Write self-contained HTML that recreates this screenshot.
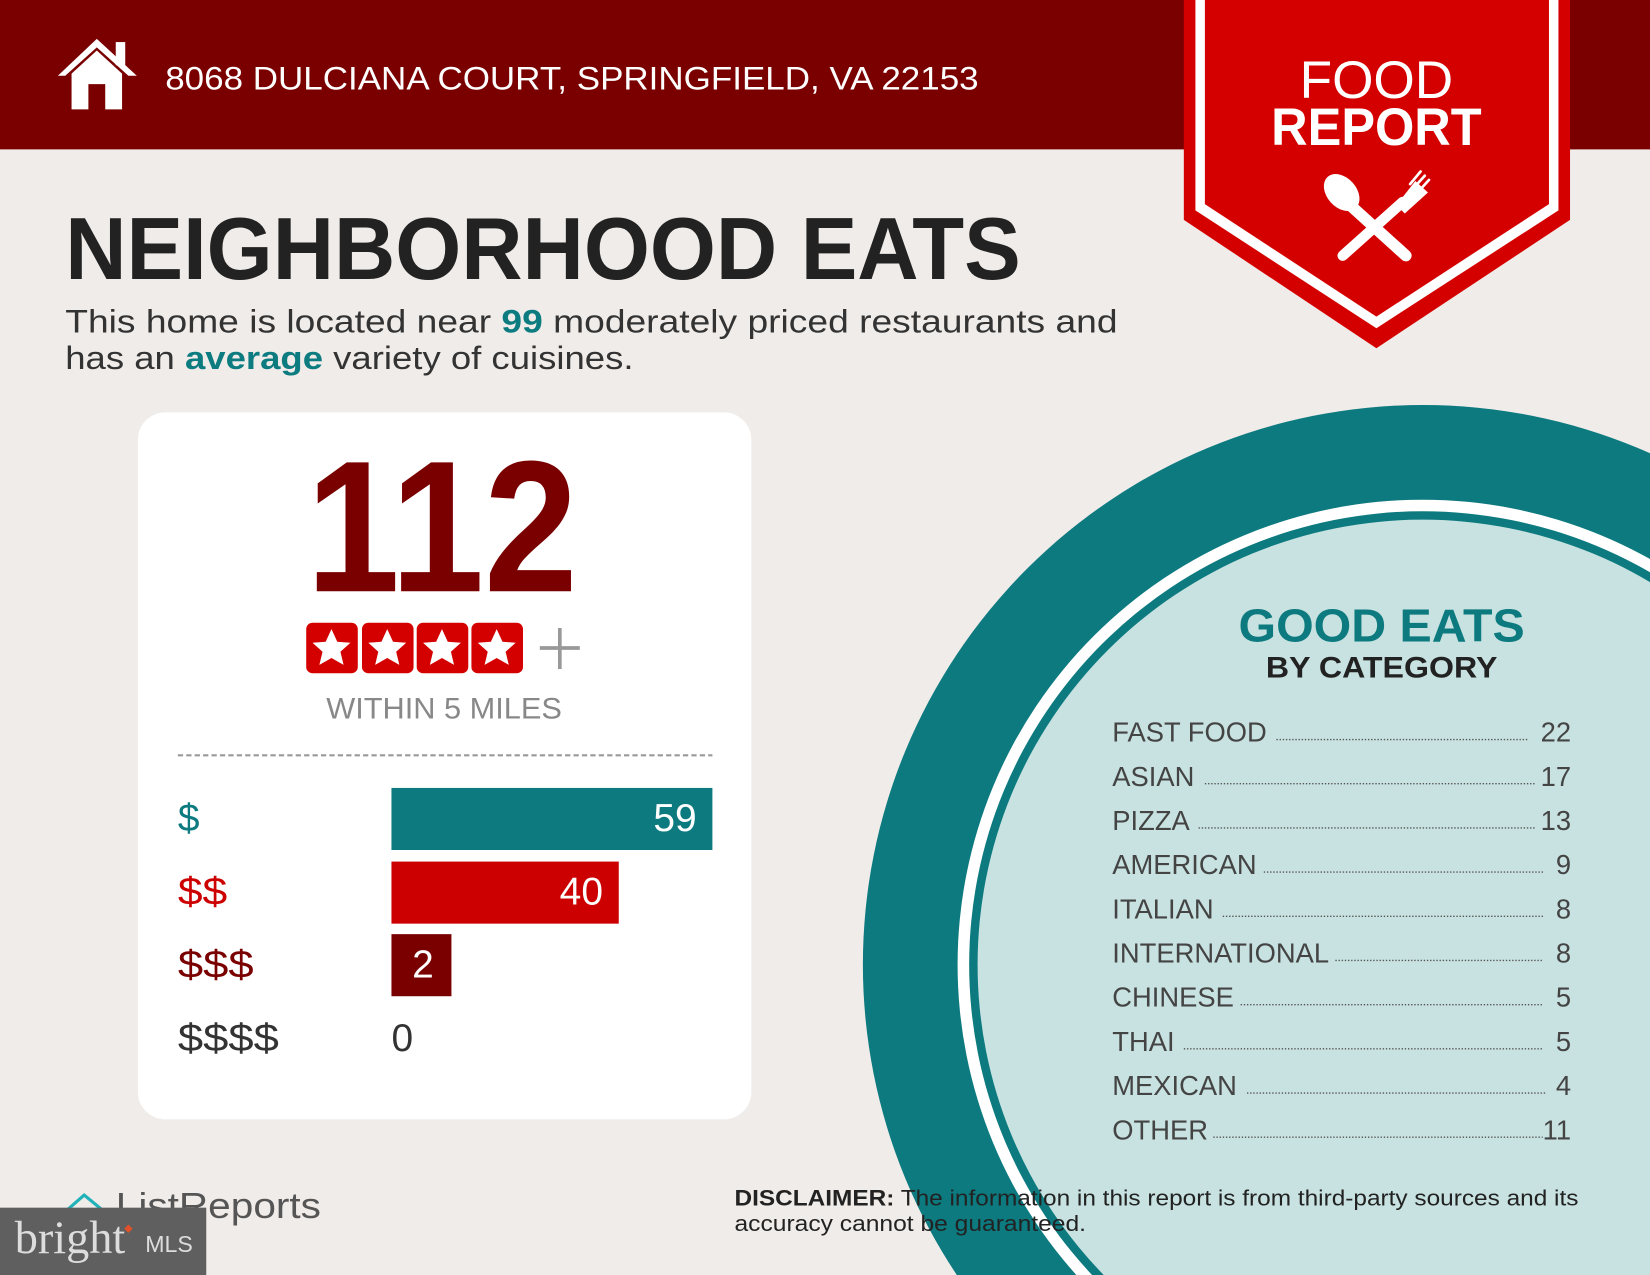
<!DOCTYPE html>
<html><head><meta charset="utf-8"><style>html,body{margin:0;padding:0;background:#f0ece9;overflow:hidden;width:1650px;height:1275px;position:relative}svg{display:block;position:absolute;left:0;top:0}</style></head>
<body>
<svg width="1650" height="1275" viewBox="0 0 1568 1212" preserveAspectRatio="none" xmlns="http://www.w3.org/2000/svg" font-family="Liberation Sans, sans-serif" overflow="hidden">
<rect width="1568" height="1212" fill="#f0ece9"/>
<rect width="1568" height="142" fill="#7a0000"/>
<g fill="#fff">
<polygon points="55,72 92,37 130,72 122,72 92,45 62,72"/>
<rect x="110" y="40" width="9" height="22"/>
<polygon points="68,70 92,48 116,70 116,104 100,104 100,80 84,80 84,104 68,104"/>
</g>
<text x="157" y="85" font-size="31" fill="#fff" textLength="773" lengthAdjust="spacingAndGlyphs">8068 DULCIANA COURT, SPRINGFIELD, VA 22153</text>
<polygon points="1125,0 1492,0 1492,209 1308,331 1125,209" fill="#d40000"/>
<polygon points="1136,0 1481,0 1481,200 1308,312 1136,200" fill="#fff"/>
<polygon points="1145,0 1472,0 1472,194 1308,301 1145,194" fill="#d40000"/>
<text x="1308" y="93" font-size="50" fill="#fff" text-anchor="middle" textLength="146" lengthAdjust="spacingAndGlyphs">FOOD</text>
<text x="1308" y="138" font-size="50" font-weight="bold" fill="#fff" text-anchor="middle" textLength="200" lengthAdjust="spacingAndGlyphs">REPORT</text>
<g stroke="#fff" stroke-linecap="round" fill="#fff">
<line x1="1283" y1="195" x2="1336" y2="243" stroke-width="11"/>
<ellipse cx="1275" cy="183" rx="14" ry="20" transform="rotate(-42 1275 183)" stroke="none"/>
<line x1="1333" y1="192" x2="1276" y2="243" stroke-width="10"/>
<path d="M1327,195 L1345,172 L1357,183 L1335,203 Z" stroke="none"/>
<line x1="1340" y1="175" x2="1350" y2="163" stroke-width="2.5"/>
<line x1="1344" y1="178" x2="1354" y2="167" stroke-width="2.5"/>
<line x1="1348" y1="182" x2="1358" y2="171" stroke-width="2.5"/>
</g>
<text x="62" y="265" font-size="84" font-weight="bold" fill="#222" textLength="908" lengthAdjust="spacingAndGlyphs">NEIGHBORHOOD EATS</text>
<text x="62" y="316" font-size="31" fill="#333" textLength="1000" lengthAdjust="spacingAndGlyphs">This home is located near <tspan fill="#0d7c80" font-weight="bold">99</tspan> moderately priced restaurants and</text>
<text x="62" y="351" font-size="31" fill="#333" textLength="540" lengthAdjust="spacingAndGlyphs">has an <tspan fill="#0d7c80" font-weight="bold">average</tspan> variety of cuisines.</text>
<circle cx="1352" cy="917" r="532" fill="#0c7a7f"/>
<circle cx="1352" cy="917" r="442" fill="#fff"/>
<circle cx="1352" cy="917" r="431" fill="#0c7a7f"/>
<circle cx="1352" cy="917" r="423" fill="#c7e2e0"/>
<text x="1313" y="610" font-size="44" font-weight="bold" fill="#0c7a7f" text-anchor="middle" textLength="272" lengthAdjust="spacingAndGlyphs">GOOD EATS</text>
<text x="1313" y="644" font-size="28" font-weight="bold" fill="#222" text-anchor="middle" textLength="220" lengthAdjust="spacingAndGlyphs">BY CATEGORY</text>
<g font-size="26" fill="#444">
<text x="1057" y="705">FAST FOOD</text><text x="1493" y="705" text-anchor="end">22</text>
<text x="1057" y="747">ASIAN</text><text x="1493" y="747" text-anchor="end">17</text>
<text x="1057" y="789">PIZZA</text><text x="1493" y="789" text-anchor="end">13</text>
<text x="1057" y="831">AMERICAN</text><text x="1493" y="831" text-anchor="end">9</text>
<text x="1057" y="873">ITALIAN</text><text x="1493" y="873" text-anchor="end">8</text>
<text x="1057" y="915">INTERNATIONAL</text><text x="1493" y="915" text-anchor="end">8</text>
<text x="1057" y="957">CHINESE</text><text x="1493" y="957" text-anchor="end">5</text>
<text x="1057" y="999">THAI</text><text x="1493" y="999" text-anchor="end">5</text>
<text x="1057" y="1041">MEXICAN</text><text x="1493" y="1041" text-anchor="end">4</text>
<text x="1057" y="1083">OTHER</text><text x="1493" y="1083" text-anchor="end">11</text>
</g>
<g stroke="#555" stroke-width="1.3" stroke-dasharray="1.3 1.7">
<line x1="1213" y1="703" x2="1453" y2="703"/><line x1="1145" y1="745" x2="1460" y2="745"/><line x1="1139" y1="787" x2="1460" y2="787"/><line x1="1201" y1="829" x2="1467" y2="829"/><line x1="1162" y1="871" x2="1467" y2="871"/><line x1="1269" y1="913" x2="1467" y2="913"/><line x1="1179" y1="955" x2="1467" y2="955"/><line x1="1125" y1="997" x2="1467" y2="997"/><line x1="1185" y1="1039" x2="1469" y2="1039"/><line x1="1153" y1="1081" x2="1466" y2="1081"/>
</g>
<rect x="131" y="392" width="583" height="672" rx="26" fill="#fff"/>
<text x="420" y="562" font-size="178" font-weight="bold" fill="#7a0000" text-anchor="middle" textLength="258" lengthAdjust="spacingAndGlyphs">112</text>
<g fill="#d40000">
<rect x="291" y="592" width="49" height="48" rx="6"/><rect x="344" y="592" width="49" height="48" rx="6"/><rect x="396" y="592" width="49" height="48" rx="6"/><rect x="448" y="592" width="49" height="48" rx="6"/>
</g>
<g fill="#fff">
<polygon id="st" points="315,598 320.5,610 333,611 323.5,619.5 326.5,632 315,625.5 303.5,632 306.5,619.5 297,611 309.5,610"/>
<use href="#st" x="53"/><use href="#st" x="105"/><use href="#st" x="157"/>
</g>
<g stroke="#999" stroke-width="3.5"><line x1="532" y1="597" x2="532" y2="636"/><line x1="513" y1="616" x2="551" y2="616"/></g>
<text x="422" y="683" font-size="28" fill="#888" text-anchor="middle" textLength="224" lengthAdjust="spacingAndGlyphs">WITHIN 5 MILES</text>
<line x1="169" y1="718" x2="677" y2="718" stroke="#999" stroke-width="2" stroke-dasharray="5 3"/>
<rect x="372" y="749" width="305" height="59" fill="#0c7a7f"/>
<rect x="372" y="819" width="216" height="59" fill="#cc0000"/>
<rect x="372" y="888" width="57" height="59" fill="#7a0000"/>
<g font-size="37">
<text x="662" y="790" fill="#fff" text-anchor="end">59</text>
<text x="573" y="860" fill="#fff" text-anchor="end">40</text>
<text x="402" y="929" fill="#fff" text-anchor="middle">2</text>
<text x="372" y="999" fill="#333">0</text>
<text x="169" y="790" fill="#0c7a7f">$</text>
<text x="169" y="860" fill="#cc0000" textLength="47" lengthAdjust="spacingAndGlyphs">$$</text>
<text x="169" y="929" fill="#7a0000" textLength="72" lengthAdjust="spacingAndGlyphs">$$$</text>
<text x="169" y="999" fill="#333" textLength="96" lengthAdjust="spacingAndGlyphs">$$$$</text>
</g>
<text x="698" y="1146" font-size="21" fill="#222" textLength="802" lengthAdjust="spacingAndGlyphs"><tspan font-weight="bold">DISCLAIMER:</tspan> The information in this report is from third-party sources and its</text>
<text x="698" y="1170" font-size="21" fill="#222" textLength="334" lengthAdjust="spacingAndGlyphs">accuracy cannot be guaranteed.</text>
<path d="M64,1150 L80,1136 L97,1150 L97,1160" fill="none" stroke="#20b2b8" stroke-width="3"/>
<text x="110" y="1158" font-size="34" fill="#555" textLength="195" lengthAdjust="spacingAndGlyphs">ListReports</text>
<rect x="0" y="1148" width="196" height="64" fill="#5f5f5f"/>
<text x="14" y="1191" font-size="44" font-family="Liberation Serif, serif" fill="#ddd">bright</text>
<polygon points="122,1164 126,1168 122,1172 118,1168" fill="#e0502a"/>
<text x="138" y="1190" font-size="22" fill="#ddd">MLS</text>
</svg>
</body></html>
